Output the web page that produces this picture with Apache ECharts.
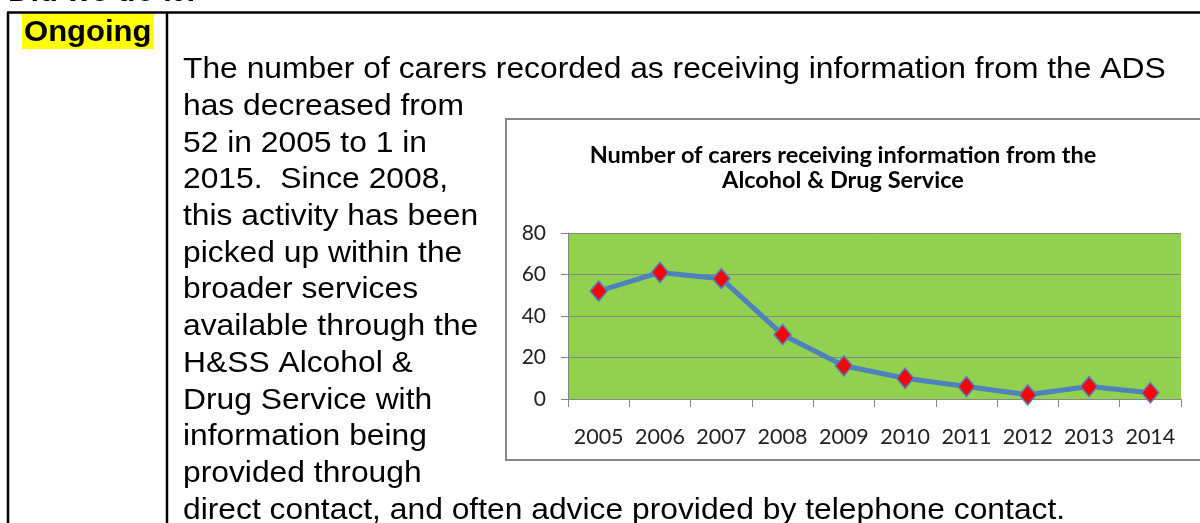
<!DOCTYPE html>
<html>
<head>
<meta charset="utf-8">
<style>
  html, body { margin: 0; padding: 0; background: #ffffff; }
  #chart { width: 1200px; height: 523px; }
</style>
<script src="https://cdn.jsdelivr.net/npm/echarts@6/dist/echarts.min.js"></script>
</head>
<body>
<div id="chart"></div>
<script>
// ---- Data ----
var years = ['2005', '2006', '2007', '2008', '2009', '2010', '2011', '2012', '2013', '2014'];
var carers = [52, 61, 58, 31, 16, 10, 6, 2, 6, 3];
var yTicks = [0, 20, 40, 60, 80];
var chartTitle = 'Number of carers receiving information from the\nAlcohol & Drug Service';
var heading = 'Did we do it?';
var status = 'Ongoing';
var bodyLines = [
  'The number of carers recorded as receiving information from the ADS',
  'has decreased from',
  '52 in 2005 to 1 in',
  '2015.  Since 2008,',
  'this activity has been',
  'picked up within the',
  'broader services',
  'available through the',
  'H&SS Alcohol &',
  'Drug Service with',
  'information being',
  'provided through',
  'direct contact, and often advice provided by telephone contact.'
];

// ---- Document graphics (layout only) ----
var graphics = [];
graphics.push({ type: 'text', x: 8, y: -7, scaleX: 1.07, z: 5,
  style: { text: heading, font: 'bold 29px "Liberation Sans", Arial, sans-serif', fill: '#000', verticalAlign: 'middle' } });
graphics.push({ type: 'line', z: 5, shape: { x1: 7, y1: 12.5, x2: 1200, y2: 12.5 }, style: { stroke: '#000', lineWidth: 2.5 } });
graphics.push({ type: 'line', z: 5, shape: { x1: 8, y1: 12, x2: 8, y2: 523 }, style: { stroke: '#000', lineWidth: 2.5 } });
graphics.push({ type: 'line', z: 5, shape: { x1: 167, y1: 12, x2: 167, y2: 523 }, style: { stroke: '#000', lineWidth: 2.5 } });
graphics.push({ type: 'rect', z: 4, shape: { x: 22, y: 14, width: 132, height: 35 }, style: { fill: '#FFFF00' } });
graphics.push({ type: 'text', x: 24, y: 33, scaleX: 1.07, z: 6,
  style: { text: status, font: 'bold 29px "Liberation Sans", Arial, sans-serif', fill: '#000', verticalAlign: 'middle' } });
for (var i = 0; i < bodyLines.length; i++) {
  graphics.push({ type: 'text', x: 183, y: 70 + i * 36.7, scaleX: 1.06, z: 6,
    style: { text: bodyLines[i], font: '30px "Liberation Sans", Arial, sans-serif', fill: '#000', verticalAlign: 'middle' } });
}
// chart frame
graphics.push({ type: 'rect', z: -10, shape: { x: 506, y: 119, width: 800, height: 341 },
  style: { fill: '#ffffff', stroke: '#868686', lineWidth: 2 } });

var chart = echarts.init(document.getElementById('chart'), null, { renderer: 'canvas' });
chart.setOption({
  animation: false,
  backgroundColor: '#ffffff',
  graphic: graphics,
  title: {
    text: chartTitle,
    left: 838,
    top: 138,
    textAlign: 'center',
    textStyle: { fontFamily: 'Lato, "Noto Sans", sans-serif', fontWeight: 'bold', fontSize: 23.5, lineHeight: 25, color: '#000' }
  },
  grid: {
    left: 568, top: 233, width: 613, height: 166,
    show: true, backgroundColor: '#92D050', borderWidth: 0,
    containLabel: false
  },
  xAxis: {
    type: 'category',
    data: years,
    boundaryGap: true,
    axisLine: { show: true, lineStyle: { color: '#868686', width: 1 } },
    axisTick: { show: true, length: 8, interval: 0, alignWithLabel: false, lineStyle: { color: '#868686' } },
    axisLabel: { interval: 0, hideOverlap: false, color: '#222', fontFamily: 'Lato, "Noto Sans", sans-serif', fontSize: 21.5, margin: 27 },
    splitLine: { show: false }
  },
  yAxis: {
    type: 'value',
    min: yTicks[0], max: yTicks[yTicks.length - 1], interval: 20,
    axisLine: { show: true, lineStyle: { color: '#868686', width: 1 } },
    axisTick: { show: true, length: 7, lineStyle: { color: '#868686' } },
    axisLabel: { color: '#222', fontFamily: 'Lato, "Noto Sans", sans-serif', fontSize: 21, margin: 22 },
    splitLine: { show: true, lineStyle: { color: '#868686', width: 1 } }
  },
  series: [{
    type: 'line',
    data: carers,
    symbol: 'diamond',
    symbolSize: [17, 20],
    lineStyle: { color: '#4F81BD', width: 5 },
    itemStyle: { color: '#FF0000', borderColor: '#4F81BD', borderWidth: 1.5 },
    z: 5
  }]
});
</script>
</body>
</html>
